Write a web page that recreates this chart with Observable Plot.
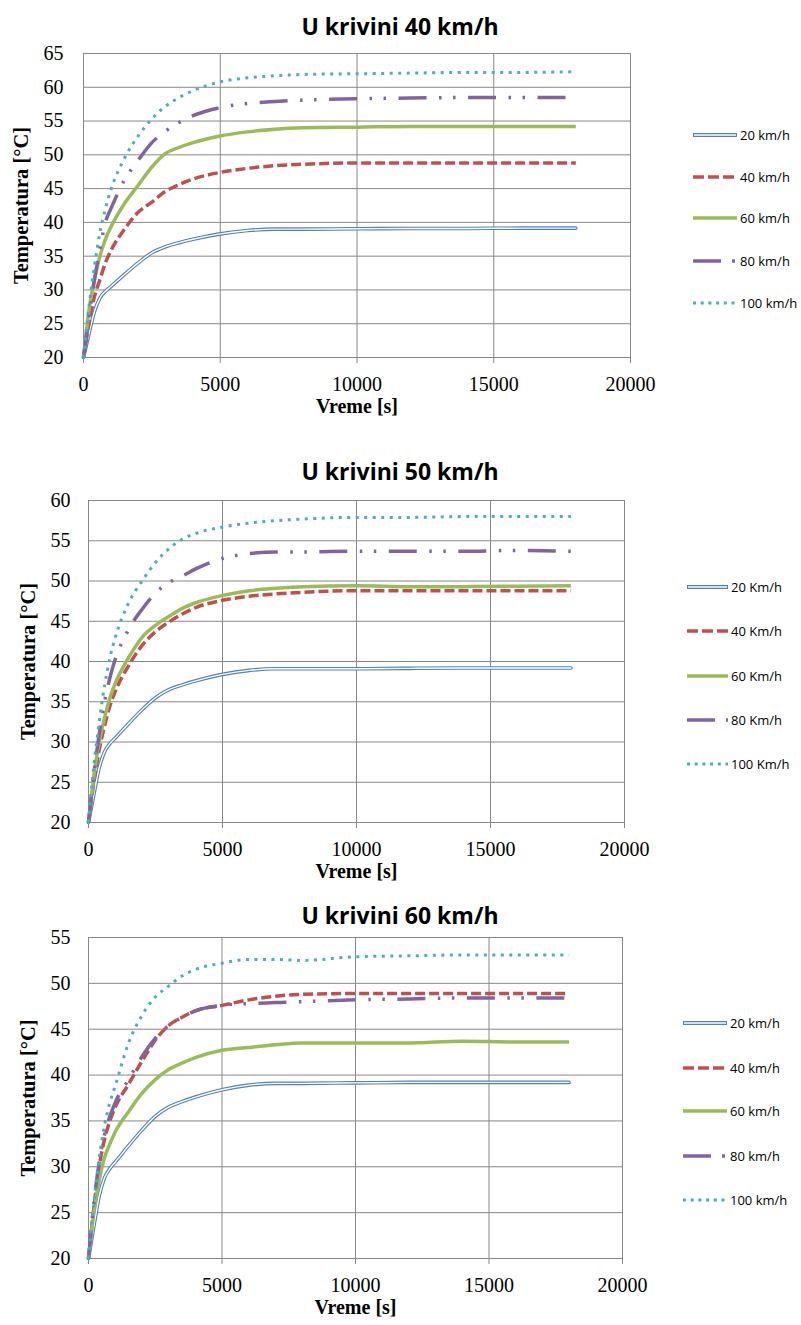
<!DOCTYPE html>
<html>
<head>
<meta charset="utf-8">
<script src="https://cdn.jsdelivr.net/npm/d3@7"></script>
<script src="https://cdn.jsdelivr.net/npm/@observablehq/plot@0.6"></script>
<style>
  html, body { margin: 0; padding: 0; background: #fff; }
  #root { position: relative; width: 801px; height: 1325px; overflow: hidden; background: #fff; }
  .chart { position: absolute; left: 0; }
  #overlay { position: absolute; left: 0; top: 0; pointer-events: none; }
</style>
</head>
<body>
<div id="root"></div>
<script>
// ---------------- DATA ----------------
const times = [0, 200, 400, 600, 800, 1000, 1500, 2000, 2500, 3000, 3500, 4000, 5000, 6000, 7000, 8000, 10000, 12000, 14000, 16000, 18000];
const seriesKeys = ["20", "40", "60", "80", "100"];
const xTicks = [0, 5000, 10000, 15000, 20000];

const titles = ["U krivini 40 km/h", "U krivini 50 km/h", "U krivini 60 km/h"];
const legendUnits = ["km/h", "Km/h", "km/h"];
const xLabel = "Vreme [s]";
const yLabel = "Temperatura [°C]";

const yTicks1 = [20, 25, 30, 35, 40, 45, 50, 55, 60, 65];
const yTicks2 = [20, 25, 30, 35, 40, 45, 50, 55, 60];
const yTicks3 = [20, 25, 30, 35, 40, 45, 50, 55];

// Chart 1: U krivini 40 km/h
const c1_20  = [20, 23.5, 26.8, 28.8, 29.8, 30.5, 32.3, 34, 35.5, 36.4, 37, 37.5, 38.3, 38.8, 39, 39, 39.05, 39.1, 39.1, 39.15, 39.15];
const c1_40  = [20, 25, 29, 31.5, 34, 35.8, 39, 41.5, 43, 44.6, 45.6, 46.4, 47.4, 48, 48.4, 48.6, 48.8, 48.8, 48.8, 48.8, 48.8];
const c1_60  = [20, 27, 31.5, 35, 37.5, 39.3, 42.8, 45.5, 48.2, 50.2, 51.1, 51.8, 52.8, 53.4, 53.8, 54, 54.1, 54.2, 54.2, 54.2, 54.2];
const c1_80  = [20, 26, 31.5, 36, 40, 42, 46.3, 49.2, 51.8, 53.5, 54.8, 55.8, 57, 57.6, 57.9, 58.1, 58.3, 58.4, 58.5, 58.5, 58.5];
const c1_100 = [20, 27.5, 33.5, 38.5, 42, 44.8, 49.5, 52.8, 55.3, 57.2, 58.5, 59.5, 60.8, 61.4, 61.7, 61.9, 62, 62.1, 62.2, 62.2, 62.3];

// Chart 2: U krivini 50 km/h
const c2_20  = [20, 23.5, 26.8, 28.8, 29.8, 30.5, 32.3, 34, 35.5, 36.5, 37.1, 37.6, 38.4, 38.9, 39.1, 39.1, 39.1, 39.15, 39.2, 39.2, 39.2];
const c2_40  = [20, 25, 29, 32, 34.5, 36.3, 39.5, 42, 43.7, 44.9, 45.9, 46.7, 47.6, 48.1, 48.4, 48.6, 48.8, 48.8, 48.8, 48.8, 48.8];
const c2_60  = [20, 25.8, 30, 33, 35.5, 37.3, 40.5, 43, 44.5, 45.6, 46.6, 47.3, 48.2, 48.8, 49.1, 49.3, 49.4, 49.3, 49.3, 49.35, 49.4];
const c2_80  = [20, 26, 31, 35, 38, 40.3, 44, 46.5, 48.5, 49.8, 50.6, 51.5, 52.8, 53.4, 53.6, 53.6, 53.7, 53.7, 53.7, 53.8, 53.7];
const c2_100 = [20, 27, 32.5, 37, 40.5, 43, 47.3, 50, 52.3, 54, 55.2, 55.9, 56.7, 57.2, 57.5, 57.7, 57.9, 57.9, 58, 58, 58];

// Chart 3: U krivini 60 km/h
const c3_20  = [20, 23.5, 26.8, 28.8, 29.8, 30.5, 32.3, 34, 35.5, 36.5, 37.1, 37.6, 38.4, 38.9, 39.1, 39.1, 39.15, 39.2, 39.2, 39.2, 39.2];
const c3_40  = [20, 25.5, 30, 33, 35, 36.5, 39, 41.5, 43.8, 45.4, 46.3, 47, 47.6, 48.2, 48.6, 48.8, 48.9, 48.9, 48.9, 48.9, 48.9];
const c3_60  = [20, 25, 28.5, 31, 32.5, 33.8, 36, 38, 39.5, 40.6, 41.3, 41.9, 42.7, 43, 43.3, 43.5, 43.5, 43.5, 43.7, 43.6, 43.6];
const c3_80  = [20, 26, 30.5, 33.5, 35.5, 37, 39.5, 42, 44, 45.4, 46.3, 47, 47.6, 47.8, 47.9, 48, 48.2, 48.3, 48.4, 48.4, 48.4];
const c3_100 = [20, 26, 31, 34.5, 37, 38.8, 43.5, 46.5, 48.5, 49.7, 50.8, 51.5, 52.2, 52.6, 52.6, 52.5, 52.9, 53, 53.1, 53.1, 53.1];

// ---------------- STYLES ----------------
const seriesStyle = {
  "20":  {stroke: "#4f81bd", strokeWidth: 3.6, double: true},
  "40":  {stroke: "#c0504d", strokeWidth: 3.5, dash: "10,4"},
  "60":  {stroke: "#9bbb59", strokeWidth: 3.5, dash: null},
  "80":  {stroke: "#8064a2", strokeWidth: 3.5, dash: "28,12.5,2.5,11.5,2.5,12.5"},
  "100": {stroke: "#4bacc6", strokeWidth: 3, dash: "3,5.5"}
};
const gridColor = "#888888";

const charts = [
  {values: [c1_20, c1_40, c1_60, c1_80, c1_100], yTicks: yTicks1, top: 0, height: 430, left: 83, right: 630, frameTop: 53, frameBottom: 357, yPad: 20, yTitleX: 21,
   titleY: 35, legend: {x1: 693, x2: 737, ys: [135, 177, 218, 261, 303]}},
  {values: [c2_20, c2_40, c2_60, c2_80, c2_100], yTicks: yTicks2, top: 440, height: 440, left: 88, right: 624, frameTop: 500, frameBottom: 822, yPad: 18, yTitleX: 28,
   titleY: 480, legend: {x1: 687, x2: 728, ys: [587, 631, 676, 720, 764]}},
  {values: [c3_20, c3_40, c3_60, c3_80, c3_100], yTicks: yTicks3, top: 880, height: 445, left: 88, right: 622, frameTop: 937, frameBottom: 1258, yPad: 18, yTitleX: 28,
   titleY: 924, legend: {x1: 683, x2: 727, ys: [1023, 1068, 1111, 1156, 1200]}}
];

const root = document.getElementById("root");

charts.forEach((cfg, ci) => {
  const rows = [];
  seriesKeys.forEach((s, j) => cfg.values[j].forEach((v, k) => rows.push({s, t: times[k], v})));
  const lineMarks = [];
  seriesKeys.forEach(s => {
    const st = seriesStyle[s];
    const data = rows.filter(r => r.s === s);
    if (st.double) {
      lineMarks.push(Plot.line(data, {x: "t", y: "v", stroke: st.stroke, strokeWidth: st.strokeWidth, curve: "monotone-x"}));
      lineMarks.push(Plot.line(data, {x: "t", y: "v", stroke: "white", strokeWidth: 1.4, curve: "monotone-x"}));
    } else {
      lineMarks.push(Plot.line(data, {x: "t", y: "v", stroke: st.stroke, strokeWidth: st.strokeWidth, strokeDasharray: st.dash || undefined, strokeLinecap: "butt", curve: "monotone-x"}));
    }
  });
  const mt = cfg.frameTop - cfg.top;
  const mb = cfg.top + cfg.height - cfg.frameBottom;
  const yDomain = [cfg.yTicks[0], cfg.yTicks[cfg.yTicks.length - 1]];
  const svg = Plot.plot({
    width: 801,
    height: cfg.height,
    marginLeft: cfg.left,
    marginRight: 801 - cfg.right,
    marginTop: mt,
    marginBottom: mb,
    x: {domain: [0, 20000]},
    y: {domain: yDomain},
    style: {fontFamily: "'Liberation Serif', 'Times New Roman', serif", fontSize: "20px", color: "black", background: "transparent", overflow: "visible"},
    marks: [
      Plot.gridY(cfg.yTicks, {stroke: gridColor, strokeOpacity: 1, strokeWidth: 1}),
      Plot.gridX(xTicks, {stroke: gridColor, strokeOpacity: 1, strokeWidth: 1}),
      Plot.frame({stroke: gridColor, strokeWidth: 1}),
      Plot.axisX(xTicks, {tickSize: 6, tickPadding: 13, stroke: gridColor, strokeOpacity: 1, label: null, tickFormat: d => String(d), fill: "black"}),
      Plot.axisY(cfg.yTicks, {tickSize: 0, tickPadding: cfg.yPad, label: null, tickFormat: d => String(d), fill: "black"}),
      ...lineMarks,
      Plot.text([xLabel], {frameAnchor: "bottom", dy: 55, fontWeight: "bold", fontSize: 20, fill: "black", textAnchor: "middle"}),
      Plot.text([yLabel], {frameAnchor: "left", rotate: -90, dx: cfg.yTitleX - cfg.left, fontWeight: "bold", fontSize: 20.5, fill: "black", textAnchor: "middle"})
    ]
  });
  const wrap = document.createElement("div");
  wrap.className = "chart";
  wrap.style.top = cfg.top + "px";
  wrap.appendChild(svg);
  root.appendChild(wrap);
});

// Overlay: titles and legends
const overlay = d3.select(root).append("svg")
  .attr("id", "overlay")
  .attr("width", 801).attr("height", 1325);

charts.forEach((cfg, ci) => {
  overlay.append("text")
    .attr("x", 400).attr("y", cfg.titleY)
    .attr("text-anchor", "middle")
    .attr("font-family", "'Open Sans', sans-serif")
    .attr("font-weight", "bold")
    .attr("font-size", 23)
    .attr("fill", "black")
    .text(titles[ci]);
  const lg = cfg.legend;
  seriesKeys.forEach((s, j) => {
    const st = seriesStyle[s];
    const y = lg.ys[j];
    const g = overlay.append("g");
    if (st.double) {
      g.append("line").attr("x1", lg.x1).attr("x2", lg.x2).attr("y1", y).attr("y2", y)
        .attr("stroke", st.stroke).attr("stroke-width", 4);
      g.append("line").attr("x1", lg.x1 + 1).attr("x2", lg.x2 - 1).attr("y1", y).attr("y2", y)
        .attr("stroke", "white").attr("stroke-width", 1.6);
    } else {
      let dash = st.dash;
      if (s === "40") dash = "11,4";
      if (s === "80") dash = "28,11,3,60";
      if (s === "100") dash = "3,4.7";
      g.append("line").attr("x1", lg.x1).attr("x2", lg.x2).attr("y1", y).attr("y2", y)
        .attr("stroke", st.stroke).attr("stroke-width", s === "100" ? 3 : 3.5)
        .attr("stroke-dasharray", dash);
    }
    g.append("text")
      .attr("x", lg.x2 + 3).attr("y", y)
      .attr("dy", "0.35em")
      .attr("font-family", "'Open Sans', sans-serif")
      .attr("font-size", 13)
      .attr("fill", "black")
      .text(s + " " + legendUnits[ci]);
  });
});
</script>
</body>
</html>
